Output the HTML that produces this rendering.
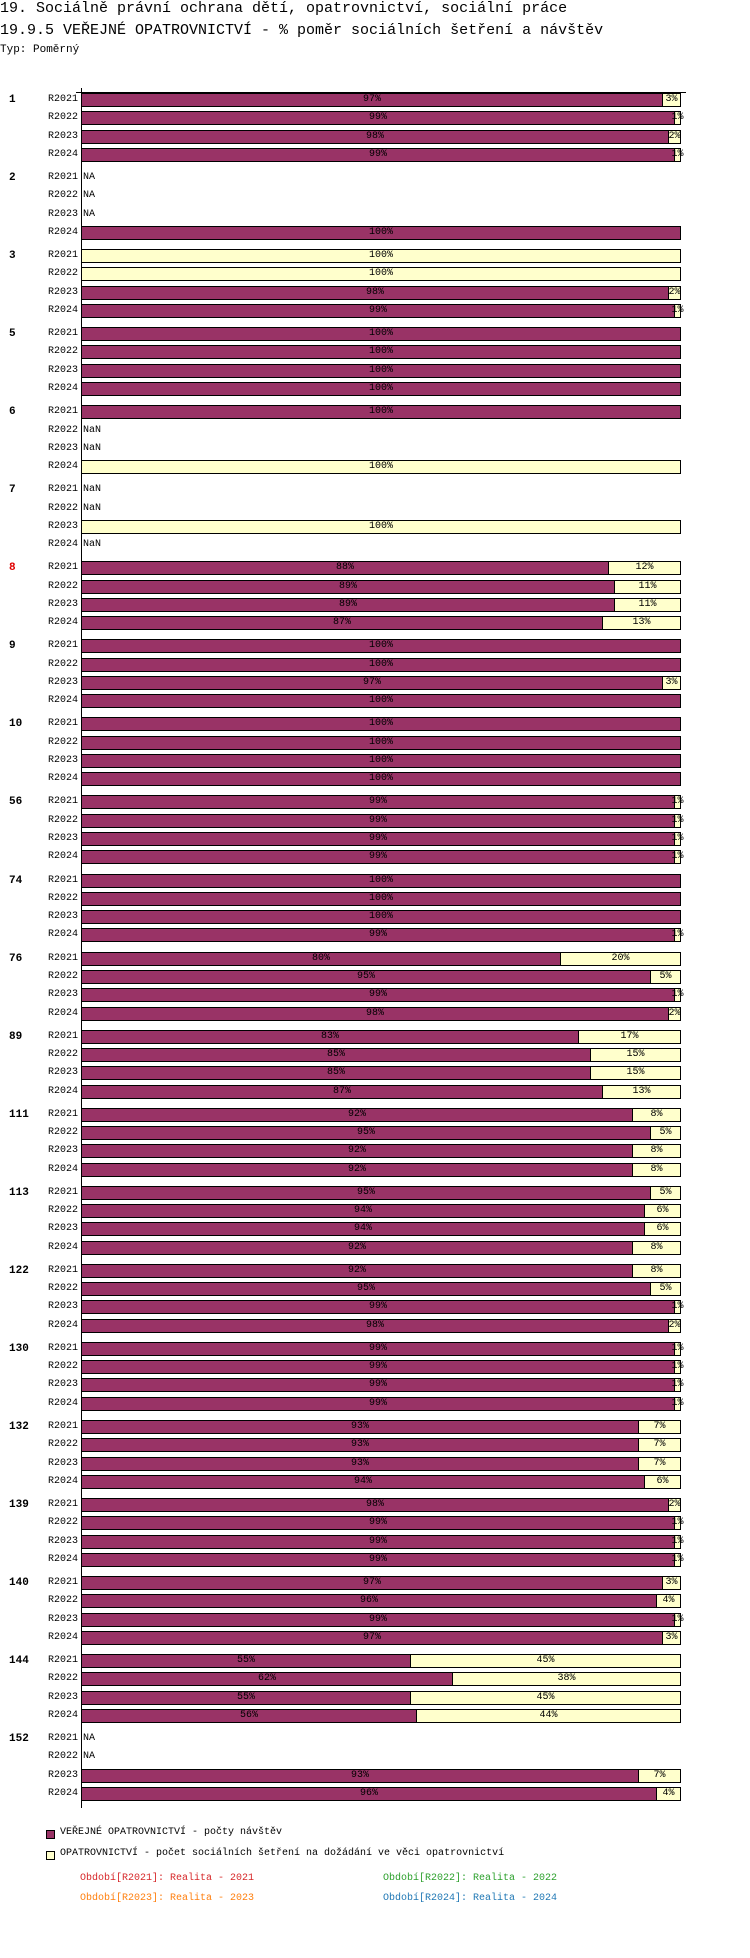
<!DOCTYPE html>
<html><head><meta charset="utf-8"><style>
body{margin:0;width:750px;height:1958px;background:#fff;position:relative;font-family:"Liberation Mono",monospace;color:#000;overflow:hidden}
.t{position:absolute;left:0;font-size:15px;white-space:nowrap}
.g{position:absolute;left:0;width:750px}
.n{position:absolute;left:9px;top:3px;font-size:11px;font-weight:bold}
.r{position:relative;height:18.33px}
.l{position:absolute;right:672px;top:3px;font-size:10px}
.na{position:absolute;left:83px;top:3px;font-size:10px}
.b{position:absolute;left:81px;top:2px;width:600px;height:14px;display:flex}
.b i,.b u{box-sizing:border-box;border:1px solid #000;height:14px;font-style:normal;text-decoration:none;font-size:10px;line-height:12px;text-align:center;white-space:nowrap;display:flex;justify-content:center;overflow:visible}
.b i{background:#993366}
.b u{background:#ffffcc;border-left:none}
.b i+u{border-left:none}
</style></head><body>
<div class="t" style="top:0">19. Sociálně právní ochrana dětí, opatrovnictví, sociální práce</div>
<div class="t" style="top:22px">19.9.5 VEŘEJNÉ OPATROVNICTVÍ - % poměr sociálních šetření a návštěv</div>
<div class="t" style="top:44px;font-size:11px">Typ: Poměrný</div>
<div style="position:absolute;left:76px;top:92px;width:610px;height:1px;background:#000"></div>
<div style="position:absolute;left:81px;top:88px;width:1px;height:1720px;background:#000"></div>

<div class="g" style="top:91px"><div class="n">1</div>
<div class="r"><span class="l">R2021</span><div class="b"><i style="width:97%">97%</i><u style="width:3%">3%</u></div></div>
<div class="r"><span class="l">R2022</span><div class="b"><i style="width:99%">99%</i><u style="width:1%">1%</u></div></div>
<div class="r"><span class="l">R2023</span><div class="b"><i style="width:98%">98%</i><u style="width:2%">2%</u></div></div>
<div class="r"><span class="l">R2024</span><div class="b"><i style="width:99%">99%</i><u style="width:1%">1%</u></div></div></div>

<div class="g" style="top:169.05px"><div class="n">2</div>
<div class="r"><span class="l">R2021</span><span class="na">NA</span></div>
<div class="r"><span class="l">R2022</span><span class="na">NA</span></div>
<div class="r"><span class="l">R2023</span><span class="na">NA</span></div>
<div class="r"><span class="l">R2024</span><div class="b"><i style="width:100%">100%</i></div></div></div>

<div class="g" style="top:247.1px"><div class="n">3</div>
<div class="r"><span class="l">R2021</span><div class="b"><u style="width:100%;border-left:1px solid #000">100%</u></div></div>
<div class="r"><span class="l">R2022</span><div class="b"><u style="width:100%;border-left:1px solid #000">100%</u></div></div>
<div class="r"><span class="l">R2023</span><div class="b"><i style="width:98%">98%</i><u style="width:2%">2%</u></div></div>
<div class="r"><span class="l">R2024</span><div class="b"><i style="width:99%">99%</i><u style="width:1%">1%</u></div></div></div>

<div class="g" style="top:325.15px"><div class="n">5</div>
<div class="r"><span class="l">R2021</span><div class="b"><i style="width:100%">100%</i></div></div>
<div class="r"><span class="l">R2022</span><div class="b"><i style="width:100%">100%</i></div></div>
<div class="r"><span class="l">R2023</span><div class="b"><i style="width:100%">100%</i></div></div>
<div class="r"><span class="l">R2024</span><div class="b"><i style="width:100%">100%</i></div></div></div>

<div class="g" style="top:403.2px"><div class="n">6</div>
<div class="r"><span class="l">R2021</span><div class="b"><i style="width:100%">100%</i></div></div>
<div class="r"><span class="l">R2022</span><span class="na">NaN</span></div>
<div class="r"><span class="l">R2023</span><span class="na">NaN</span></div>
<div class="r"><span class="l">R2024</span><div class="b"><u style="width:100%;border-left:1px solid #000">100%</u></div></div></div>

<div class="g" style="top:481.25px"><div class="n">7</div>
<div class="r"><span class="l">R2021</span><span class="na">NaN</span></div>
<div class="r"><span class="l">R2022</span><span class="na">NaN</span></div>
<div class="r"><span class="l">R2023</span><div class="b"><u style="width:100%;border-left:1px solid #000">100%</u></div></div>
<div class="r"><span class="l">R2024</span><span class="na">NaN</span></div></div>

<div class="g" style="top:559.3px"><div class="n" style="color:#e00000">8</div>
<div class="r"><span class="l">R2021</span><div class="b"><i style="width:88%">88%</i><u style="width:12%">12%</u></div></div>
<div class="r"><span class="l">R2022</span><div class="b"><i style="width:89%">89%</i><u style="width:11%">11%</u></div></div>
<div class="r"><span class="l">R2023</span><div class="b"><i style="width:89%">89%</i><u style="width:11%">11%</u></div></div>
<div class="r"><span class="l">R2024</span><div class="b"><i style="width:87%">87%</i><u style="width:13%">13%</u></div></div></div>

<div class="g" style="top:637.35px"><div class="n">9</div>
<div class="r"><span class="l">R2021</span><div class="b"><i style="width:100%">100%</i></div></div>
<div class="r"><span class="l">R2022</span><div class="b"><i style="width:100%">100%</i></div></div>
<div class="r"><span class="l">R2023</span><div class="b"><i style="width:97%">97%</i><u style="width:3%">3%</u></div></div>
<div class="r"><span class="l">R2024</span><div class="b"><i style="width:100%">100%</i></div></div></div>

<div class="g" style="top:715.4px"><div class="n">10</div>
<div class="r"><span class="l">R2021</span><div class="b"><i style="width:100%">100%</i></div></div>
<div class="r"><span class="l">R2022</span><div class="b"><i style="width:100%">100%</i></div></div>
<div class="r"><span class="l">R2023</span><div class="b"><i style="width:100%">100%</i></div></div>
<div class="r"><span class="l">R2024</span><div class="b"><i style="width:100%">100%</i></div></div></div>

<div class="g" style="top:793.45px"><div class="n">56</div>
<div class="r"><span class="l">R2021</span><div class="b"><i style="width:99%">99%</i><u style="width:1%">1%</u></div></div>
<div class="r"><span class="l">R2022</span><div class="b"><i style="width:99%">99%</i><u style="width:1%">1%</u></div></div>
<div class="r"><span class="l">R2023</span><div class="b"><i style="width:99%">99%</i><u style="width:1%">1%</u></div></div>
<div class="r"><span class="l">R2024</span><div class="b"><i style="width:99%">99%</i><u style="width:1%">1%</u></div></div></div>

<div class="g" style="top:871.5px"><div class="n">74</div>
<div class="r"><span class="l">R2021</span><div class="b"><i style="width:100%">100%</i></div></div>
<div class="r"><span class="l">R2022</span><div class="b"><i style="width:100%">100%</i></div></div>
<div class="r"><span class="l">R2023</span><div class="b"><i style="width:100%">100%</i></div></div>
<div class="r"><span class="l">R2024</span><div class="b"><i style="width:99%">99%</i><u style="width:1%">1%</u></div></div></div>

<div class="g" style="top:949.55px"><div class="n">76</div>
<div class="r"><span class="l">R2021</span><div class="b"><i style="width:80%">80%</i><u style="width:20%">20%</u></div></div>
<div class="r"><span class="l">R2022</span><div class="b"><i style="width:95%">95%</i><u style="width:5%">5%</u></div></div>
<div class="r"><span class="l">R2023</span><div class="b"><i style="width:99%">99%</i><u style="width:1%">1%</u></div></div>
<div class="r"><span class="l">R2024</span><div class="b"><i style="width:98%">98%</i><u style="width:2%">2%</u></div></div></div>

<div class="g" style="top:1027.6px"><div class="n">89</div>
<div class="r"><span class="l">R2021</span><div class="b"><i style="width:83%">83%</i><u style="width:17%">17%</u></div></div>
<div class="r"><span class="l">R2022</span><div class="b"><i style="width:85%">85%</i><u style="width:15%">15%</u></div></div>
<div class="r"><span class="l">R2023</span><div class="b"><i style="width:85%">85%</i><u style="width:15%">15%</u></div></div>
<div class="r"><span class="l">R2024</span><div class="b"><i style="width:87%">87%</i><u style="width:13%">13%</u></div></div></div>

<div class="g" style="top:1105.65px"><div class="n">111</div>
<div class="r"><span class="l">R2021</span><div class="b"><i style="width:92%">92%</i><u style="width:8%">8%</u></div></div>
<div class="r"><span class="l">R2022</span><div class="b"><i style="width:95%">95%</i><u style="width:5%">5%</u></div></div>
<div class="r"><span class="l">R2023</span><div class="b"><i style="width:92%">92%</i><u style="width:8%">8%</u></div></div>
<div class="r"><span class="l">R2024</span><div class="b"><i style="width:92%">92%</i><u style="width:8%">8%</u></div></div></div>

<div class="g" style="top:1183.7px"><div class="n">113</div>
<div class="r"><span class="l">R2021</span><div class="b"><i style="width:95%">95%</i><u style="width:5%">5%</u></div></div>
<div class="r"><span class="l">R2022</span><div class="b"><i style="width:94%">94%</i><u style="width:6%">6%</u></div></div>
<div class="r"><span class="l">R2023</span><div class="b"><i style="width:94%">94%</i><u style="width:6%">6%</u></div></div>
<div class="r"><span class="l">R2024</span><div class="b"><i style="width:92%">92%</i><u style="width:8%">8%</u></div></div></div>

<div class="g" style="top:1261.75px"><div class="n">122</div>
<div class="r"><span class="l">R2021</span><div class="b"><i style="width:92%">92%</i><u style="width:8%">8%</u></div></div>
<div class="r"><span class="l">R2022</span><div class="b"><i style="width:95%">95%</i><u style="width:5%">5%</u></div></div>
<div class="r"><span class="l">R2023</span><div class="b"><i style="width:99%">99%</i><u style="width:1%">1%</u></div></div>
<div class="r"><span class="l">R2024</span><div class="b"><i style="width:98%">98%</i><u style="width:2%">2%</u></div></div></div>

<div class="g" style="top:1339.8px"><div class="n">130</div>
<div class="r"><span class="l">R2021</span><div class="b"><i style="width:99%">99%</i><u style="width:1%">1%</u></div></div>
<div class="r"><span class="l">R2022</span><div class="b"><i style="width:99%">99%</i><u style="width:1%">1%</u></div></div>
<div class="r"><span class="l">R2023</span><div class="b"><i style="width:99%">99%</i><u style="width:1%">1%</u></div></div>
<div class="r"><span class="l">R2024</span><div class="b"><i style="width:99%">99%</i><u style="width:1%">1%</u></div></div></div>

<div class="g" style="top:1417.85px"><div class="n">132</div>
<div class="r"><span class="l">R2021</span><div class="b"><i style="width:93%">93%</i><u style="width:7%">7%</u></div></div>
<div class="r"><span class="l">R2022</span><div class="b"><i style="width:93%">93%</i><u style="width:7%">7%</u></div></div>
<div class="r"><span class="l">R2023</span><div class="b"><i style="width:93%">93%</i><u style="width:7%">7%</u></div></div>
<div class="r"><span class="l">R2024</span><div class="b"><i style="width:94%">94%</i><u style="width:6%">6%</u></div></div></div>

<div class="g" style="top:1495.9px"><div class="n">139</div>
<div class="r"><span class="l">R2021</span><div class="b"><i style="width:98%">98%</i><u style="width:2%">2%</u></div></div>
<div class="r"><span class="l">R2022</span><div class="b"><i style="width:99%">99%</i><u style="width:1%">1%</u></div></div>
<div class="r"><span class="l">R2023</span><div class="b"><i style="width:99%">99%</i><u style="width:1%">1%</u></div></div>
<div class="r"><span class="l">R2024</span><div class="b"><i style="width:99%">99%</i><u style="width:1%">1%</u></div></div></div>

<div class="g" style="top:1573.95px"><div class="n">140</div>
<div class="r"><span class="l">R2021</span><div class="b"><i style="width:97%">97%</i><u style="width:3%">3%</u></div></div>
<div class="r"><span class="l">R2022</span><div class="b"><i style="width:96%">96%</i><u style="width:4%">4%</u></div></div>
<div class="r"><span class="l">R2023</span><div class="b"><i style="width:99%">99%</i><u style="width:1%">1%</u></div></div>
<div class="r"><span class="l">R2024</span><div class="b"><i style="width:97%">97%</i><u style="width:3%">3%</u></div></div></div>

<div class="g" style="top:1652px"><div class="n">144</div>
<div class="r"><span class="l">R2021</span><div class="b"><i style="width:55%">55%</i><u style="width:45%">45%</u></div></div>
<div class="r"><span class="l">R2022</span><div class="b"><i style="width:62%">62%</i><u style="width:38%">38%</u></div></div>
<div class="r"><span class="l">R2023</span><div class="b"><i style="width:55%">55%</i><u style="width:45%">45%</u></div></div>
<div class="r"><span class="l">R2024</span><div class="b"><i style="width:56%">56%</i><u style="width:44%">44%</u></div></div></div>

<div class="g" style="top:1730.05px"><div class="n">152</div>
<div class="r"><span class="l">R2021</span><span class="na">NA</span></div>
<div class="r"><span class="l">R2022</span><span class="na">NA</span></div>
<div class="r"><span class="l">R2023</span><div class="b"><i style="width:93%">93%</i><u style="width:7%">7%</u></div></div>
<div class="r"><span class="l">R2024</span><div class="b"><i style="width:96%">96%</i><u style="width:4%">4%</u></div></div></div>

<div style="position:absolute;left:46px;top:1830px;width:7px;height:7px;border:1px solid #000;background:#993366"></div>
<div style="position:absolute;left:60px;top:1827px;font-size:10px">VEŘEJNÉ OPATROVNICTVÍ - počty návštěv</div>
<div style="position:absolute;left:46px;top:1851px;width:7px;height:7px;border:1px solid #000;background:#ffffcc"></div>
<div style="position:absolute;left:60px;top:1848px;font-size:10px">OPATROVNICTVÍ - počet sociálních šetření na dožádání ve věci opatrovnictví</div>
<div style="position:absolute;left:80px;top:1873px;font-size:10px;color:#d62728">Období[R2021]: Realita - 2021</div>
<div style="position:absolute;left:383px;top:1873px;font-size:10px;color:#2ca02c">Období[R2022]: Realita - 2022</div>
<div style="position:absolute;left:80px;top:1893px;font-size:10px;color:#ff7f0e">Období[R2023]: Realita - 2023</div>
<div style="position:absolute;left:383px;top:1893px;font-size:10px;color:#1f77b4">Období[R2024]: Realita - 2024</div>
</body></html>
